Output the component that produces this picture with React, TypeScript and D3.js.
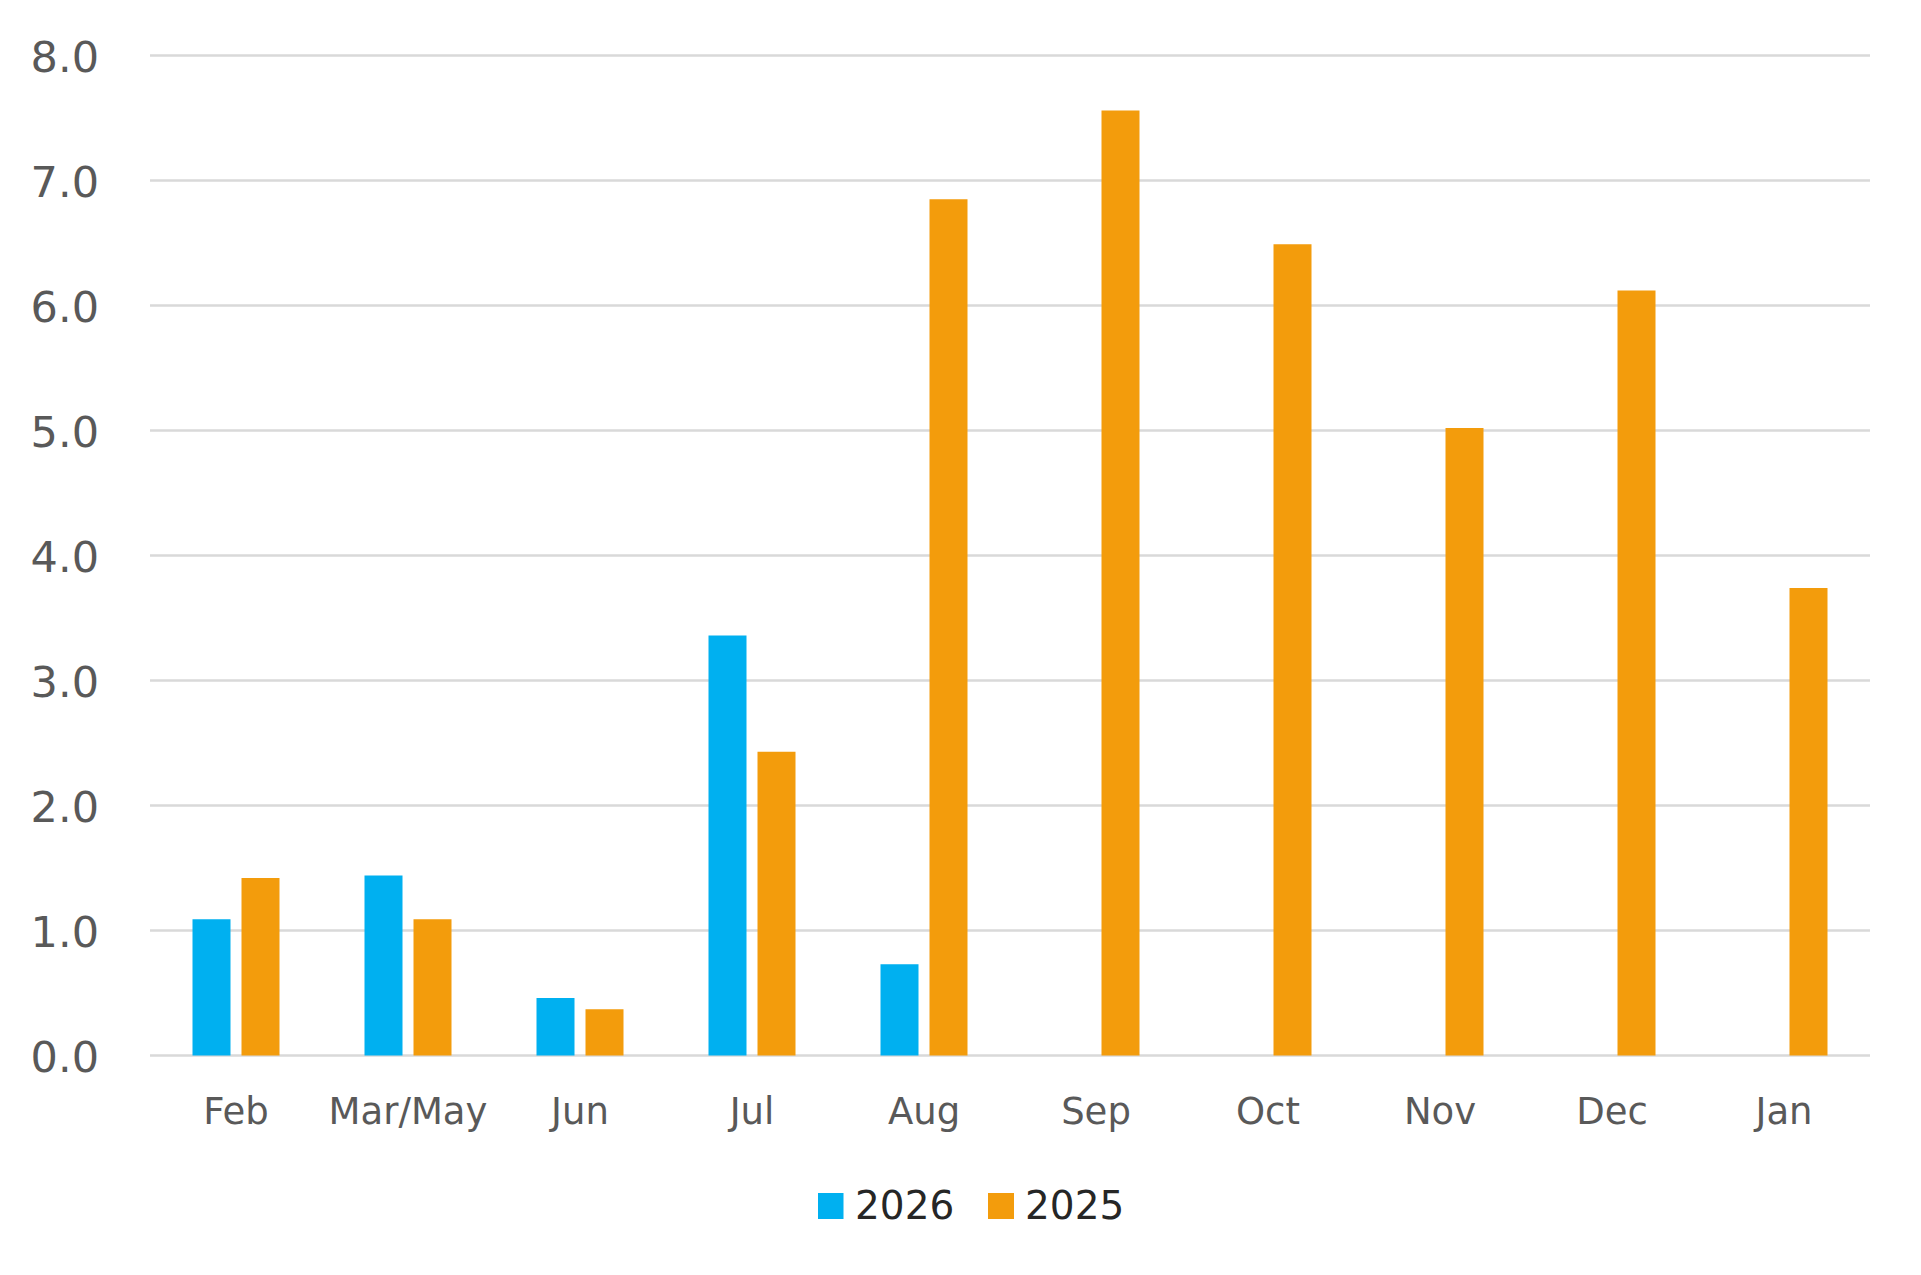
import React from "react";
import * as d3 from "d3";

const categories = ["Feb", "Mar/May", "Jun", "Jul", "Aug", "Sep", "Oct", "Nov", "Dec", "Jan"];
const seriesNames = ["2026", "2025"];
const values2026: (number | null)[] = [1.09, 1.44, 0.46, 3.36, 0.73, null, null, null, null, null];
const values2025: (number | null)[] = [1.42, 1.09, 0.37, 2.43, 6.85, 7.56, 6.49, 5.02, 6.12, 3.74];
const yTicks = [0, 1, 2, 3, 4, 5, 6, 7, 8];
const colors = ["#00B0F0", "#F39C0C"];

const W = 1921;
const H = 1275;
const FONT = "'DejaVu Sans', sans-serif";

export default function App() {
  const x = d3.scaleBand<string>().domain(categories).range([150, 1870]);
  const y = d3.scaleLinear().domain([0, 8]).range([1055.5, 55.5]);
  const inner = d3
    .scaleBand<string>()
    .domain(seriesNames)
    .range([-43.5, 43.5])
    .paddingInner(11 / 49);
  const seriesData = [values2026, values2025];

  return (
    <svg
      width={W}
      height={H}
      style={{ position: "absolute", left: 0, top: 0, background: "#fff" }}
    >
      <rect x={0} y={0} width={W} height={H} fill="#fff" />
      {yTicks.map((t) => (
        <g key={t}>
          <line
            x1={x.range()[0]}
            x2={x.range()[1]}
            y1={y(t)}
            y2={y(t)}
            stroke="#D9D9D9"
            strokeWidth={2.7}
          />
          <text
            x={99}
            y={y(t) + 16}
            textAnchor="end"
            fontFamily={FONT}
            fontSize={43}
            fill="#595959"
          >
            {t.toFixed(1)}
          </text>
        </g>
      ))}
      {seriesData.map((vals, si) =>
        vals.map((v, i) => {
          if (v == null) return null;
          const cx = (x(categories[i]) as number) + x.bandwidth() / 2;
          const bx = cx + (inner(seriesNames[si]) as number);
          return (
            <rect
              key={`${si}-${i}`}
              x={bx}
              y={y(v)}
              width={inner.bandwidth()}
              height={y(0) - y(v)}
              fill={colors[si]}
            />
          );
        })
      )}
      {categories.map((c) => (
        <text
          key={c}
          x={(x(c) as number) + x.bandwidth() / 2}
          y={1124}
          textAnchor="middle"
          fontFamily={FONT}
          fontSize={37}
          fill="#595959"
        >
          {c}
        </text>
      ))}
      <g>
        <rect x={818} y={1193} width={25.5} height={26} fill={colors[0]} />
        <text x={855} y={1219} fontFamily={FONT} fontSize={39} fill="#262626">
          {seriesNames[0]}
        </text>
        <rect x={988} y={1193} width={26} height={26} fill={colors[1]} />
        <text x={1025} y={1219} fontFamily={FONT} fontSize={39} fill="#262626">
          {seriesNames[1]}
        </text>
      </g>
    </svg>
  );
}
